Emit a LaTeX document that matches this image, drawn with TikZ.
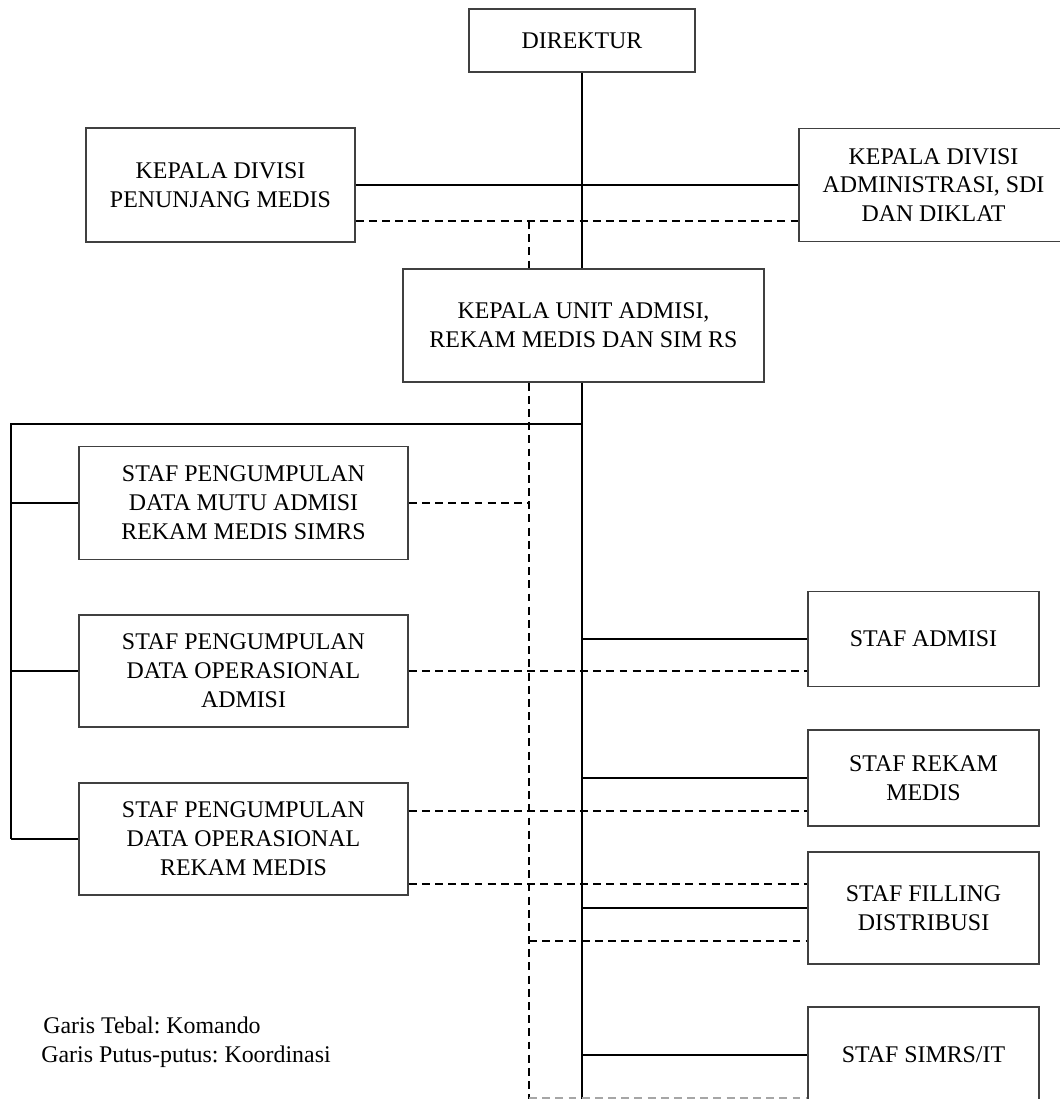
\documentclass[tikz,border=0pt]{standalone}
\usepackage{fontspec}
\setmainfont{Liberation Serif}
\frenchspacing
\begin{document}
\begin{tikzpicture}[x=0.02cm, y=-0.02cm,
        box/.style={draw=black!75, line width=0.8pt, fill=white, align=center, inner sep=0pt, font=\fontsize{13.6}{16.4}\selectfont},
        cmd/.style={line width=1pt},
        koor/.style={line width=0.9pt, dash pattern=on 4.5pt off 3pt},
        legend/.style={anchor=base west, inner sep=0pt, font=\fontsize{13.6}{16.4}\selectfont}]
        \useasboundingbox (0,0) rectangle (1060,1099);
        \node[box, minimum width=4.52cm, minimum height=1.26cm] (dir) at (582,40.5) {DIREKTUR};
        \node[box, minimum width=5.38cm, minimum height=2.28cm] (pm) at (220.5,185) {KEPALA DIVISI\\PENUNJANG MEDIS};
        \node[box, minimum width=5.38cm, minimum height=2.26cm] (adm) at (933.5,185) {KEPALA DIVISI\\ADMINISTRASI, SDI\\DAN DIKLAT};
        \node[box, minimum width=7.22cm, minimum height=2.26cm] (unit) at (583.5,325.5) {KEPALA UNIT ADMISI,\\REKAM MEDIS DAN SIM RS};
        \node[box, minimum width=6.58cm, minimum height=2.26cm] (sp1) at (243.5,503) {STAF PENGUMPULAN\\DATA MUTU ADMISI\\REKAM MEDIS SIMRS};
        \node[box, minimum width=6.58cm, minimum height=2.24cm] (sp2) at (243.5,671) {STAF PENGUMPULAN\\DATA OPERASIONAL\\ADMISI};
        \node[box, minimum width=6.58cm, minimum height=2.24cm] (sp3) at (243.5,839) {STAF PENGUMPULAN\\DATA OPERASIONAL\\REKAM MEDIS};
        \node[box, minimum width=4.62cm, minimum height=1.9cm] (sadm) at (923.5,639) {STAF ADMISI};
        \node[box, minimum width=4.62cm, minimum height=1.92cm] (srm) at (923.5,778) {STAF REKAM\\MEDIS};
        \node[box, minimum width=4.62cm, minimum height=2.24cm] (sfd) at (923.5,908) {STAF FILLING\\DISTRIBUSI};
        \node[box, minimum width=4.62cm, minimum height=1.92cm] (sit) at (923.5,1055) {STAF SIMRS/IT};
        \node[legend] (leg1) at (43,1033) {Garis Tebal: Komando};
        \node[legend] (leg2) at (41,1062) {Garis Putus-putus: Koordinasi};
        \coordinate (sc) at (582,1099);
        \coordinate (dc) at (529,1099);
        \coordinate (dt) at (529,221);
        \coordinate (rt) at (582,424);
        \coordinate (lt) at (11,424);
        \draw[cmd] (dir.south) -- (dir.south |- unit.north);
        \draw[cmd] (unit.south -| dir.south) -- (sc);
        \draw[cmd] (pm) -- (adm);
        \draw[cmd] (rt) -- (lt) -- (lt |- sp3.west);
        \foreach \n in {sp1, sp2, sp3}
            \draw[cmd] (\n.west -| lt) -- (\n.west);
        \foreach \n in {sadm, srm, sfd, sit}
            \draw[cmd] (\n.west -| sc) -- (\n.west);
        \draw[koor] (pm.east |- dt) -- (adm.west |- dt);
        \draw[koor] (dt) -- (unit.north -| dt);
        \draw[koor] (unit.south -| dt) -- (dc);
        \draw[koor] (sp1.east) -- (sp1.east -| dc);
        \draw[koor] (sp2.east) -- (sp2.east -| sadm.west);
        \draw[koor] (sp3.east |- 0,811) -- (srm.west |- 0,811);
        \draw[koor] (sp3.east |- 0,884) -- (sfd.west |- 0,884);
        \draw[koor] (dc |- 0,941) -- (sfd.west |- 0,941);
        \draw[koor, black!35] (dc |- 0,1098) -- (sit.west |- 0,1098);
    \end{tikzpicture}
\end{document}
